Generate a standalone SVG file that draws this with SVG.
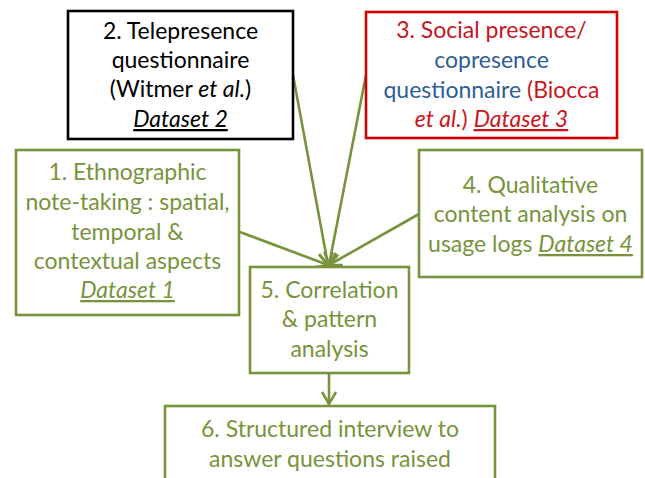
<svg xmlns="http://www.w3.org/2000/svg" width="645" height="478" viewBox="0 0 645 478">
<style>
text{font-family:Lato,"Open Sans","Liberation Sans",sans-serif;font-size:23px;text-anchor:middle}
.g{fill:#77933C}
.k{fill:#000}
.r{fill:#C8161D}
.b{fill:#2F5D95}
.i{font-style:italic}
.u{text-decoration:underline}
.box{fill:#fff;stroke-width:2.6}
.gb{stroke:#77933C}
.conn{stroke:#77933C;stroke-width:2.6;fill:none}
</style>
<defs>
<marker id="ah" markerUnits="userSpaceOnUse" markerWidth="30" markerHeight="30" refX="0" refY="0" viewBox="-15 -15 30 30" orient="auto">
<path d="M-12,-7 L0,0 L-12,7" fill="none" stroke="#77933C" stroke-width="2.6"/>
</marker>
</defs>
<rect width="645" height="478" fill="#fff"/>
<g id="connectors">
<line class="conn" x1="240" y1="232" x2="328" y2="265" marker-end="url(#ah)"/>
<line class="conn" x1="293" y1="75" x2="328" y2="265" marker-end="url(#ah)"/>
<line class="conn" x1="366" y1="75" x2="329" y2="265" marker-end="url(#ah)"/>
<line class="conn" x1="419" y1="214" x2="329" y2="265" marker-end="url(#ah)"/>
<line class="conn" x1="329" y1="373" x2="329" y2="404" marker-end="url(#ah)"/>
</g>
<g id="node2">
<rect class="box" x="68" y="11" width="225" height="128" stroke="#000"/>
<text class="k" x="180.5" y="39">2. Telepresence</text>
<text class="k" x="180.5" y="68">questionnaire</text>
<text class="k" x="180.5" y="97">(Witmer <tspan class="i">et al.</tspan>)</text>
<text class="k i u" x="180.5" y="127">Dataset 2</text>
</g>
<g id="node3">
<rect class="box" x="366" y="12" width="251" height="126" stroke="#D00000"/>
<text class="r" x="491.5" y="38">3. Social presence/</text>
<text class="b" x="491.5" y="68">copresence</text>
<text class="b" x="491.5" y="98">questionnaire <tspan class="r">(Biocca</tspan></text>
<text class="r" x="491.5" y="127"><tspan class="i">et al.</tspan>) <tspan class="i u">Dataset 3</tspan></text>
</g>
<g id="node1">
<rect class="box gb" x="16" y="150" width="223" height="165"/>
<text class="g" x="127.5" y="180">1. Ethnographic</text>
<text class="g" x="127.5" y="210">note-taking : spatial,</text>
<text class="g" x="127.5" y="240">temporal &amp;</text>
<text class="g" x="127.5" y="269">contextual aspects</text>
<text class="g i u" x="127.5" y="298">Dataset 1</text>
</g>
<g id="node4">
<rect class="box gb" x="419" y="150" width="223" height="127"/>
<text class="g" x="530.5" y="193">4. Qualitative</text>
<text class="g" x="530.5" y="222">content analysis on</text>
<text class="g" x="530.5" y="252">usage logs <tspan class="i u">Dataset 4</tspan></text>
</g>
<g id="node5">
<rect class="box gb" x="250" y="267" width="159" height="106"/>
<text class="g" x="329.5" y="298">5. Correlation</text>
<text class="g" x="329.5" y="327">&amp; pattern</text>
<text class="g" x="329.5" y="357">analysis</text>
</g>
<g id="node6">
<rect class="box gb" x="165" y="406" width="330" height="90"/>
<text class="g" x="330" y="437">6. Structured interview to</text>
<text class="g" x="330" y="467">answer questions raised</text>
</g>
</svg>
